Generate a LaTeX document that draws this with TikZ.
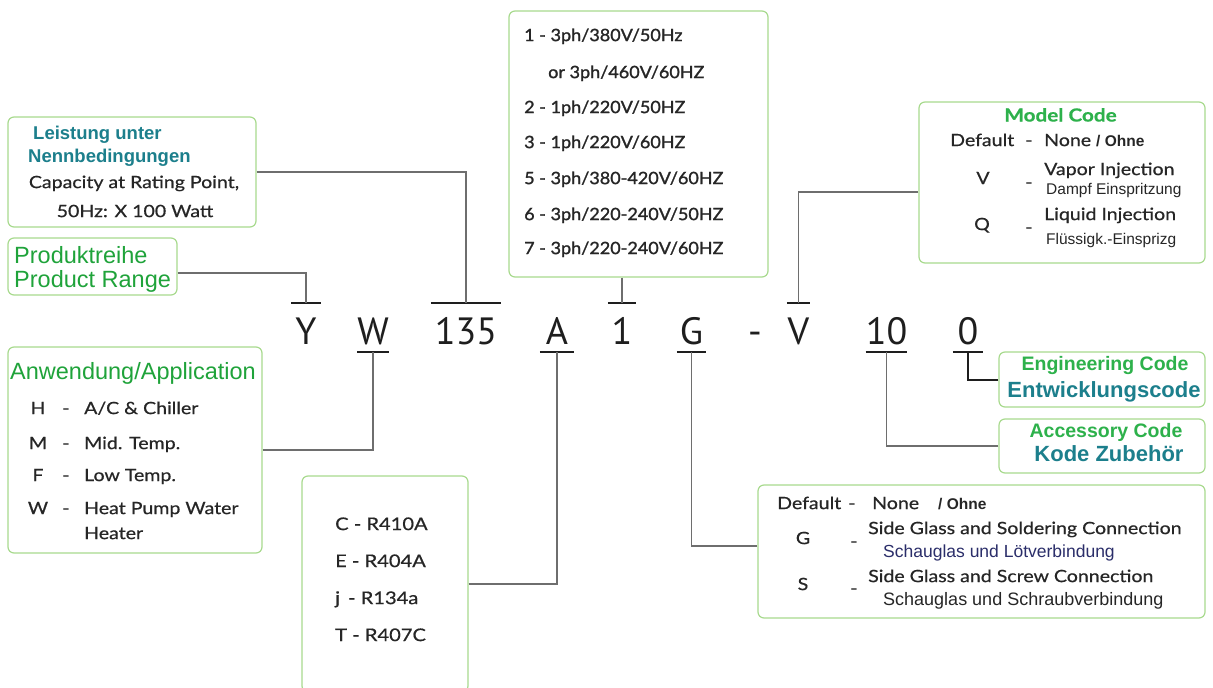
\documentclass[tikz,border=0pt]{standalone}
\usepackage{fontspec}
\setmainfont{Lato}[FakeStretch=1.15, FakeBold=0.6]
\newfontfamily\listfont{Lato}[FakeStretch=1.06, FakeBold=1.4]
\newfontfamily\arialfont{Liberation Sans}
\newfontfamily\codefont{PT Sans}
\usetikzlibrary{positioning, calc}
\definecolor{boxgreen}{HTML}{A8DA8E}
\definecolor{hdrgreen}{HTML}{1FA33A}
\definecolor{codegreen}{HTML}{2DB14B}
\definecolor{codeteal}{HTML}{1C7F8C}
\definecolor{navytext}{HTML}{2B2E6A}
\definecolor{bodygrey}{HTML}{262626}
\definecolor{linegrey}{HTML}{6E6E6E}
\definecolor{barblack}{HTML}{1E1E1E}
\tikzset{
  infobox/.style={rectangle, draw=boxgreen, line width=1.2pt, rounded corners=6pt,
                  fill=white, inner sep=0},
  codechar/.style={inner sep=0, text height=41pt, text depth=8pt, text=barblack,
                   font=\codefont\fontsize{38}{40}\selectfont},
  codebar/.style={line width=2pt, draw=barblack},
  link/.style={line width=1.1pt, draw=linegrey},
  boldlink/.style={line width=2pt, draw=barblack},
  body/.style={inner sep=0, anchor=west, text=bodygrey, text height=12.2pt, text depth=0pt,
               font=\fontsize{17}{20}\selectfont},
  supplyline/.style={body, font=\listfont\fontsize{17}{20}\selectfont},
  subline/.style={inner sep=0, anchor=west, text=bodygrey, text height=11pt, text depth=0pt,
                  font=\arialfont\fontsize{15.5}{17}\selectfont},
  bigtitle/.style={inner sep=0, anchor=west, text=hdrgreen, text height=16.5pt, text depth=0pt,
                   font=\arialfont\fontsize{23.5}{26}\selectfont},
  ltitle/.style={inner sep=0, anchor=west, text=codeteal, text height=12.5pt, text depth=0pt,
                 font=\arialfont\bfseries\fontsize{18.5}{20}\selectfont},
  boldtitle/.style={inner sep=0, text=codegreen, text height=14pt, text depth=0pt,
                    font=\arialfont\bfseries\fontsize{19.5}{22}\selectfont},
  tealtitle/.style={inner sep=0, text=codeteal, text height=15.8pt, text depth=0pt,
                    font=\arialfont\bfseries\fontsize{22}{24}\selectfont},
}
\newcommand{\ohnetag}{{\arialfont\bfseries\fontsize{15.5}{17}\selectfont / Ohne}}

\begin{document}
\begin{tikzpicture}[x=1pt, y=-1pt]
  \clip (0,0) rectangle (1213,688);

  % --- Leistung / capacity ---
  \node[infobox, minimum width=248, minimum height=110] (rating) at (132,172) {};
  \node[ltitle] at (33,133) {Leistung unter};
  \node[ltitle] at (28,156) {Nennbedingungen};
  \node[body, anchor=center] at (134,182) {Capacity at Rating Point,};
  \node[body, anchor=center] at (135,211) {50Hz: X 100 Watt};

  % --- product range ---
  \node[infobox, minimum width=169, minimum height=57] (range) at (92.5,266.5) {};
  \node[bigtitle] at (14,255) {Produktreihe};
  \node[bigtitle] at (14,279) {Product Range};

  % --- application ---
  \node[infobox, minimum width=254, minimum height=206] (appl) at (135,450) {};
  \node[bigtitle] at (10,371) {Anwendung/Application};
  \foreach \k/\v/\y in {H/{A/C \& Chiller}/408, M/{Mid. Temp.}/443,
                        F/{Low Temp.}/475, W/{Heat Pump Water}/508} {
    \node[body, anchor=center] at (38,\y) {\k};
    \node[body] at (62,\y) {-};
    \node[body] at (84,\y) {\v};
  }
  \node[body] at (84,533) {Heater};

  % --- refrigerant ---
  \node[infobox, minimum width=166, minimum height=216] (refrig) at (385,584) {};
  \foreach \t/\y in {{C - R410A}/524, {E - R404A}/561, {j\, - R134a}/598, {T - R407C}/635}
    \node[body, font=\fontsize{17.5}{20}\selectfont] at (335,\y) {\t};

  % --- power supply ---
  \node[infobox, minimum width=259, minimum height=266] (supply) at (638.5,144) {};
  \foreach \t/\y in {{1 - 3ph/380V/50Hz}/35, {2 - 1ph/220V/50HZ}/107,
                     {3 - 1ph/220V/60HZ}/142, {5 - 3ph/380-420V/60HZ}/178,
                     {6 - 3ph/220-240V/50HZ}/214, {7 - 3ph/220-240V/60HZ}/248}
    \node[supplyline] at (524,\y) {\t};
  \node[supplyline] at (548,72) {or 3ph/460V/60HZ};

  % --- model code ---
  \node[infobox, minimum width=286, minimum height=161] (model) at (1062,182.5) {};
  \node[boldtitle, text height=13pt, font=\bfseries\fontsize{18}{20}\selectfont] at (1060.5,115) {Model Code};
  \node[body] at (950,140) {Default};
  \node[body] at (1025,140) {-};
  \node[body] at (1044,140) {None \ohnetag};
  \node[body, anchor=center] at (983,178) {V};
  \node[body] at (1025,182) {-};
  \node[body] at (1044,169) {Vapor Injection};
  \node[subline] at (1046,189) {Dampf Einspritzung};
  \node[body, anchor=center] at (982,224) {Q};
  \node[body] at (1025,227) {-};
  \node[body] at (1044,214) {Liquid Injection};
  \node[subline] at (1046,239) {Flüssigk.-Einsprizg};

  % --- engineering / accessory ---
  \node[infobox, minimum width=206, minimum height=55] (eng) at (1102,379.5) {};
  \node[boldtitle] at (1105,363) {Engineering Code};
  \node[tealtitle] at (1104,390) {Entwicklungscode};
  \node[infobox, minimum width=206, minimum height=54] (acc) at (1102,446) {};
  \node[boldtitle] at (1106,430) {Accessory Code};
  \node[tealtitle] at (1109,454) {Kode Zubehör};

  % --- connection / fitting ---
  \node[infobox, minimum width=447, minimum height=133] (fitting) at (981.5,551.5) {};
  \node[body] at (777,503) {Default};
  \node[body] at (848,503) {-};
  \node[body] at (872,503) {None};
  \node[body] at (938,503) {\ohnetag};
  \node[body, anchor=center] at (803,538) {G};
  \node[body] at (850,541) {-};
  \node[body] at (868,528) {Side Glass and Soldering Connection};
  \node[subline, text=navytext, font=\arialfont\fontsize{17.5}{19}\selectfont] at (883,552) {Schauglas und Lötverbindung};
  \node[body, anchor=center] at (803,584) {S};
  \node[body] at (850,588) {-};
  \node[body] at (868,576) {Side Glass and Screw Connection};
  \node[subline, font=\arialfont\fontsize{18}{19}\selectfont] at (883,600) {Schauglas und Schraubverbindung};

  % --- the type code ---
  \foreach \n/\c/\x/\w in {cY/Y/306/29, cW/W/373/29, cN/135/466/70, cA/A/557/34,
                           c1/1/622/28, cG/G/691.5/29, cV/V/798.5/23,
                           c10/10/886.5/29, c0/0/968/30}
    \node[codechar, minimum width=\w] (\n) at (\x,327.5) {\c};
  \node[codechar] (cdash) at (755,327.5) {-};
  \foreach \n in {cY, cN, c1, cV}
    \draw[codebar] (\n.north west) -- (\n.north east);
  \foreach \n in {cW, cA, cG, c10, c0}
    \draw[codebar] (\n.south west) -- (\n.south east);

  % --- connectors ---
  \draw[link] (rating.east) -| (cN.north);
  \draw[link] ([yshift=-6.5pt]range.east) -| (cY.north);
  \draw[link] (appl.east) -| (cW.south);
  \draw[link] (refrig.east) -| (cA.south);
  \draw[link] (supply.south -| c1.north) -- (c1.north);
  \draw[link] ([yshift=-9.5pt]model.west) -| (cV.north);
  \draw[link] ([yshift=5.5pt]fitting.west) -| (cG.south);
  \draw[link] (acc.west) -| (c10.south);
  \draw[boldlink] (eng.west) -| (c0.south);
\end{tikzpicture}
\end{document}
